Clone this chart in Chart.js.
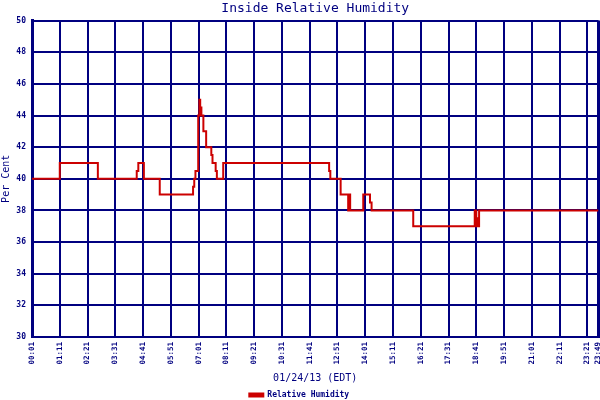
<!DOCTYPE html>
<html>
<head>
<meta charset="utf-8">
<title>Inside Relative Humidity</title>
<script src="https://cdn.jsdelivr.net/npm/chart.js@4/dist/chart.umd.min.js"></script>
<style>
	html, body { margin: 0; padding: 0; background: #fff; }
</style>
</head>
<body>
<canvas id="grafico" width="600" height="400"></canvas>
<script>
// times where the reading changed, reading held until the next time
var times = ["00:01", "01:11", "02:47", "04:25", "04:29", "04:43", "05:23", "06:47", "06:50", "06:53",
	"07:00", "07:03", "07:05", "07:08", "07:13", "07:20", "07:33", "07:36", "07:44", "07:47",
	"08:03", "12:30", "12:33", "12:59", "13:18", "13:20", "13:23", "13:56", "14:13", "14:17",
	"16:02", "18:37", "18:41", "18:43", "18:45", "18:48", "23:49"];
var humidity = [40, 41, 40, 40.5, 41, 40, 39, 39.5, 40, 40.5,
	44, 45, 44.5, 44, 43, 42, 41.5, 41, 40.5, 40,
	41, 40.5, 40, 39, 38, 39, 38, 39, 38.5, 38,
	37, 38, 37, 37.5, 37, 38, 38];

var xLabels = ["00:01", "01:11", "02:21", "03:31", "04:41", "05:51", "07:01", "08:11", "09:21", "10:31", "11:41",
	"12:51", "14:01", "15:11", "16:21", "17:31", "18:41", "19:51", "21:01", "22:11", "23:21", "23:49"];
var yLabels = [30, 32, 34, 36, 38, 40, 42, 44, 46, 48, 50];

var navy = '#000080';
var mono = "'DejaVu Sans Mono', monospace";

function toMin(t) {
	var p = t.split(':');
	return parseInt(p[0], 10) * 60 + parseInt(p[1], 10);
}
function toTime(m) {
	var h = Math.floor(m / 60), mm = m % 60;
	return (h < 10 ? '0' : '') + h + ':' + (mm < 10 ? '0' : '') + mm;
}

var points = [];
for (var i in times) {
	points.push({ x: toMin(times[i]), y: humidity[i] });
}

var ctx = document.getElementById('grafico');

var chart = new Chart(ctx, {
	type: 'line',
	data: {
		datasets: [{
			label: 'Relative Humidity',
			data: points,
			borderColor: '#cc0000',
			backgroundColor: '#cc0000',
			borderWidth: 2,
			pointRadius: 0,
			stepped: true,
			fill: false
		}]
	},
	options: {
		responsive: false,
		animation: false,
		devicePixelRatio: 1,
		layout: { padding: { right: 1.5 } },
		plugins: {
			title: {
				display: true,
				text: 'Inside Relative Humidity',
				color: navy,
				fullSize: false,
				font: { family: mono, size: 13, weight: 'normal', lineHeight: 1.2 },
				padding: { top: 1, bottom: 4 }
			},
			legend: {
				position: 'bottom',
				maxHeight: 16,
				labels: {
					color: navy,
					font: { family: mono, size: 8, weight: 'bold' },
					boxWidth: 14,
					boxHeight: 3,
					padding: 7
				}
			},
			tooltip: { enabled: false }
		},
		scales: {
			x: {
				type: 'linear',
				min: toMin(xLabels[0]),
				max: toMin(xLabels[xLabels.length - 1]),
				afterBuildTicks: function(scale) {
					scale.ticks = xLabels.map(function(l) { return { value: toMin(l) }; });
				},
				afterFit: function(scale) {
					scale.height = 400 - 337 - 16;
					scale.paddingLeft = 0;
					scale.paddingRight = 0;
				},
				ticks: {
					color: navy,
					font: { family: mono, size: 7.5, weight: 'bold' },
					minRotation: 90,
					maxRotation: 90,
					padding: 5,
					autoSkip: false,
					callback: function(v) { return toTime(v); }
				},
				grid: {
					color: navy,
					drawTicks: false,
					lineWidth: function(c) { return c.index === xLabels.length - 1 ? 3 : 2; }
				},
				border: { display: true, color: navy, width: 2 },
				title: {
					display: true,
					text: '01/24/13 (EDT)',
					color: navy,
					font: { family: mono, size: 10 },
					padding: { top: 4, bottom: 0 }
				}
			},
			y: {
				min: 30,
				max: 50,
				afterBuildTicks: function(scale) {
					scale.ticks = yLabels.map(function(v) { return { value: v }; });
				},
				afterFit: function(scale) {
					scale.width = 32;
				},
				ticks: {
					color: navy,
					font: { family: mono, size: 8, weight: 'bold' },
					padding: 6
				},
				grid: { color: navy, lineWidth: 2, drawTicks: false },
				border: { display: true, color: navy, width: 3 },
				title: {
					display: true,
					text: 'Per Cent',
					color: navy,
					font: { family: mono, size: 10 },
					padding: { top: 0, bottom: 0 }
				}
			}
		}
	}
});
</script>
</body>
</html>
